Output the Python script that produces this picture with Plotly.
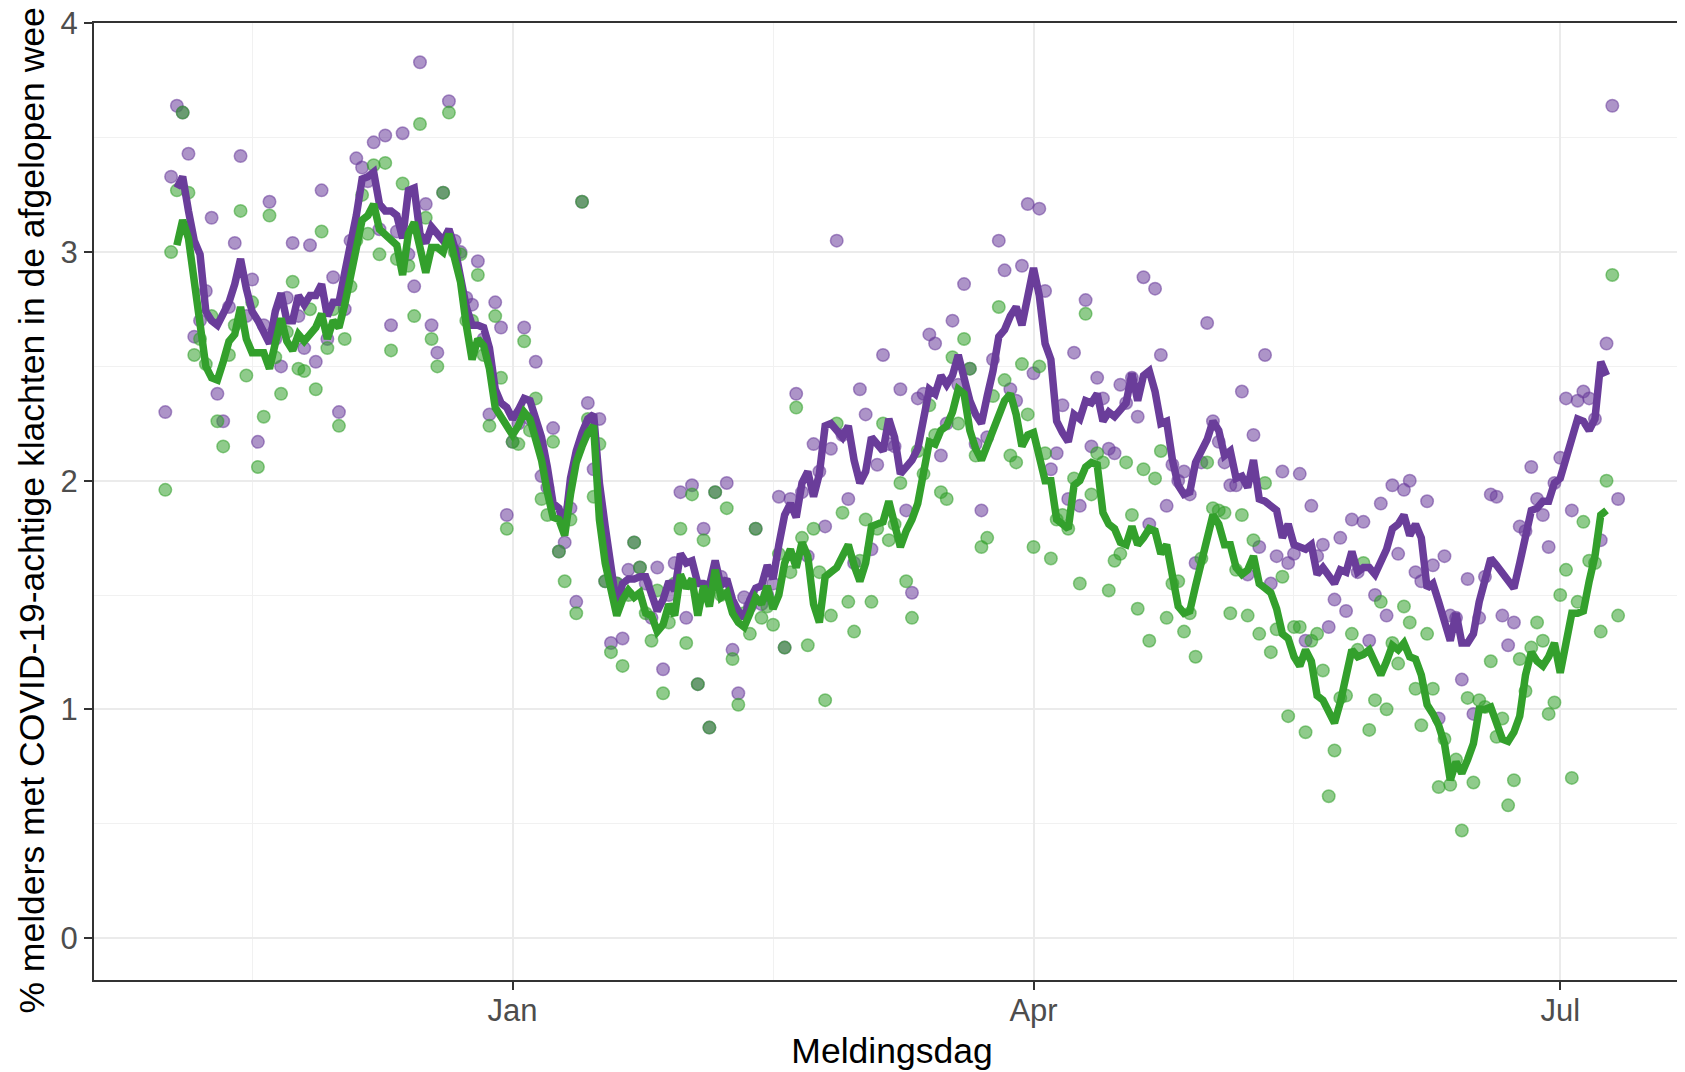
import pandas as pd
import plotly.graph_objects as go

# ---------------- data ----------------
point_start = "2022-11-02"   # first daily point
line_start = "2022-11-04"    # first point of the smoothed lines

purple_points = [
    2.30, 3.33, 3.64, 3.61, 3.43, 2.63, 2.70, 2.83, 3.15, 2.38,
    2.26, 2.76, 3.04, 3.42, 2.72, 2.88, 2.17, 2.68, 3.22, 2.62,
    2.50, 2.80, 3.04, 2.72, 2.58, 3.03, 2.52, 3.27, 2.62, 2.89,
    2.30, 2.75, 3.05, 3.41, 3.37, 3.31, 3.48, 3.10, 3.51, 2.68,
    3.09, 3.52, 2.99, 2.85, 3.83, 3.21, 2.68, 2.56, 3.26, 3.66,
    3.05, 3.00, 2.80, 2.77, 2.96, 2.62, 2.29, 2.78, 2.67, 1.85,
    2.17, 2.25, 2.67, 2.27, 2.52, 2.02, 1.97, 2.23, 1.69, 1.73,
    1.88, 1.47, 3.22, 2.34, 2.05, 2.27, 1.56, 1.29, 1.55, 1.31,
    1.61, 1.73, 1.62, 1.55, 1.40, 1.62, 1.175, 1.50, 1.64, 1.95,
    1.40, 1.98, 1.11, 1.79, 0.92, 1.95, 1.58, 1.99, 1.26, 1.07,
    1.49, 1.45, 1.79, 1.46, 1.50, 1.55, 1.93, 1.27, 1.92, 2.38,
    1.95, 1.67, 2.16, 2.04, 1.80, 2.14, 3.05, 2.20, 1.92, 1.64,
    2.40, 2.29, 1.70, 2.07, 2.55, 2.16, 2.15, 2.40, 1.87, 1.51,
    2.36, 2.38, 2.64, 2.60, 2.11, 2.25, 2.70, 2.42, 2.86, 2.49,
    2.16, 1.87, 2.19, 2.53, 3.05, 2.92, 2.40, 2.35, 2.94, 3.21,
    2.47, 3.19, 2.83, 2.05, 2.12, 2.33, 1.92, 2.56, 1.89, 2.79,
    2.15, 2.45, 2.36, 2.14, 2.12, 2.42, 2.34, 2.45, 2.28, 2.89,
    1.81, 2.84, 2.55, 1.89, 2.07, 2.00, 2.04, 1.94, 1.64, 2.08,
    2.69, 2.26, 2.17, 2.08, 1.98, 1.98, 2.39, 1.59, 2.20, 1.71,
    2.55, 1.55, 1.67, 2.04, 1.64, 1.68, 2.03, 1.30, 1.89, 1.67,
    1.72, 1.36, 1.48, 1.75, 1.43, 1.83, 1.60, 1.82, 1.30, 1.50,
    1.90, 1.41, 1.98, 1.68, 1.96, 2.00, 1.60, 1.56, 1.91, 1.63,
    0.96, 1.67, 1.41, 1.40, 1.13, 1.57, 0.98, 1.40, 1.58, 1.94,
    1.93, 1.41, 1.28, 1.38, 1.80, 1.78, 2.06, 1.92, 1.85, 1.71,
    1.99, 2.10, 2.36, 1.87, 2.35, 2.39, 2.36, 2.27, 1.74, 2.60,
    3.64, 1.92,
]

green_points = [
    1.96, 3.00, 3.27, 3.61, 3.26, 2.55, 2.62, 2.51, 2.72, 2.26,
    2.15, 2.55, 2.68, 3.18, 2.46, 2.78, 2.06, 2.28, 3.16, 2.54,
    2.38, 2.65, 2.87, 2.49, 2.48, 2.75, 2.40, 3.09, 2.58, 2.75,
    2.24, 2.62, 2.85, 3.05, 3.25, 3.08, 3.38, 2.99, 3.39, 2.57,
    2.97, 3.30, 2.94, 2.72, 3.56, 3.15, 2.62, 2.50, 3.26, 3.61,
    3.00, 2.99, 2.70, 2.70, 2.90, 2.55, 2.24, 2.72, 2.45, 1.79,
    2.17, 2.16, 2.61, 2.22, 2.36, 1.92, 1.85, 2.17, 1.69, 1.56,
    1.83, 1.42, 3.22, 2.27, 1.93, 2.16, 1.56, 1.25, 1.55, 1.19,
    1.50, 1.73, 1.62, 1.42, 1.30, 1.52, 1.07, 1.38, 1.55, 1.79,
    1.29, 1.94, 1.11, 1.74, 0.92, 1.95, 1.50, 1.88, 1.22, 1.02,
    1.42, 1.33, 1.79, 1.40, 1.45, 1.37, 1.68, 1.27, 1.60, 2.32,
    1.75, 1.28, 1.79, 1.60, 1.04, 1.41, 2.25, 1.86, 1.47, 1.34,
    1.65, 1.83, 1.47, 1.79, 2.25, 1.74, 1.81, 1.99, 1.56, 1.40,
    2.13, 2.03, 2.33, 2.20, 1.95, 1.92, 2.54, 2.25, 2.62, 2.49,
    2.11, 1.71, 1.75, 2.37, 2.76, 2.44, 2.11, 2.08, 2.51, 2.29,
    1.71, 2.50, 2.12, 1.66, 1.83, 1.85, 1.79, 2.01, 1.55, 2.73,
    1.94, 2.12, 2.08, 1.52, 1.65, 1.68, 2.08, 1.85, 1.44, 2.05,
    1.30, 2.01, 2.13, 1.40, 1.55, 1.56, 1.34, 1.42, 1.23, 1.66,
    2.08, 1.88, 1.87, 1.86, 1.42, 1.61, 1.85, 1.41, 1.74, 1.33,
    1.99, 1.25, 1.35, 1.58, 0.97, 1.36, 1.36, 0.90, 1.30, 1.33,
    1.17, 0.62, 0.82, 1.05, 1.06, 1.33, 1.26, 1.64, 0.91, 1.04,
    1.47, 1.00, 1.29, 1.20, 1.45, 1.38, 1.09, 0.93, 1.33, 1.09,
    0.66, 0.87, 0.67, 0.78, 0.47, 1.05, 0.68, 1.04, 1.01, 1.21,
    0.88, 0.96, 0.58, 0.69, 1.22, 1.08, 1.27, 1.38, 1.30, 0.98,
    1.03, 1.50, 1.61, 0.70, 1.47, 1.82, 1.65, 1.64, 1.34, 2.00,
    2.90, 1.41,
]

purple_line = [
    3.28, 3.33, 3.18, 3.05, 2.99, 2.74, 2.70, 2.68, 2.73, 2.78,
    2.86, 2.97, 2.84, 2.74, 2.70, 2.65, 2.60, 2.74, 2.82, 2.70,
    2.70, 2.81, 2.77, 2.81, 2.81, 2.86, 2.72, 2.78, 2.78, 2.91,
    3.03, 3.16, 3.32, 3.33, 3.35, 3.21, 3.18, 3.18, 3.16, 3.06,
    3.27, 3.28, 3.08, 3.04, 3.11, 3.08, 3.05, 3.10, 3.02, 2.89,
    2.76, 2.68, 2.68, 2.67, 2.58, 2.40, 2.34, 2.32, 2.27, 2.31,
    2.36, 2.35, 2.28, 2.19, 2.06, 1.90, 1.88, 1.79, 2.01, 2.13,
    2.21, 2.27, 2.29, 1.99, 1.80, 1.63, 1.45, 1.55, 1.57, 1.57,
    1.58, 1.58, 1.49, 1.43, 1.48, 1.56, 1.52, 1.68, 1.64, 1.65,
    1.55, 1.55, 1.54, 1.65, 1.54, 1.57, 1.48, 1.43, 1.40, 1.48,
    1.53, 1.54, 1.63, 1.57, 1.72, 1.85, 1.90, 1.84, 1.99, 2.04,
    1.93, 2.03, 2.24, 2.25, 2.22, 2.19, 2.24, 2.09, 1.99, 2.04,
    2.19, 2.16, 2.13, 2.27, 2.19, 2.03, 2.06, 2.09, 2.14, 2.27,
    2.40, 2.38, 2.46, 2.42, 2.46, 2.55, 2.45, 2.35, 2.29, 2.25,
    2.37, 2.48, 2.63, 2.66, 2.72, 2.76, 2.68, 2.82, 2.93, 2.81,
    2.60, 2.53, 2.26, 2.21, 2.17, 2.29, 2.27, 2.35, 2.34, 2.38,
    2.26, 2.30, 2.28, 2.31, 2.34, 2.47, 2.35, 2.46, 2.48, 2.39,
    2.25, 2.26, 2.09, 1.98, 1.94, 1.95, 2.08, 2.13, 2.18, 2.26,
    2.22, 2.11, 2.13, 2.01, 2.02, 1.97, 2.09, 1.92, 1.91, 1.89,
    1.87, 1.75, 1.81, 1.72, 1.71, 1.70, 1.72, 1.59, 1.62, 1.59,
    1.55, 1.61, 1.60, 1.69, 1.60, 1.62, 1.62, 1.59, 1.64, 1.70,
    1.79, 1.81, 1.85, 1.76, 1.81, 1.75, 1.53, 1.55, 1.47, 1.38,
    1.30, 1.42, 1.29, 1.29, 1.33, 1.47, 1.58, 1.66, 1.63, 1.60,
    1.57, 1.53, 1.64, 1.76, 1.87, 1.88, 1.91, 1.91, 1.99, 2.01,
    2.10, 2.19, 2.27, 2.26, 2.22, 2.27, 2.52, 2.46,
]

green_line = [
    3.03, 3.14, 3.06, 2.89, 2.70, 2.50, 2.45, 2.44, 2.52, 2.61,
    2.64, 2.76, 2.62, 2.56, 2.56, 2.56, 2.49, 2.61, 2.71, 2.61,
    2.57, 2.64, 2.61, 2.64, 2.67, 2.73, 2.62, 2.70, 2.67, 2.77,
    2.90, 3.03, 3.14, 3.16, 3.21, 3.10, 3.08, 3.05, 3.03, 2.90,
    3.08, 3.13, 3.00, 2.91, 3.02, 3.02, 3.00, 3.08, 2.97, 2.87,
    2.68, 2.53, 2.62, 2.59, 2.49, 2.32, 2.28, 2.24, 2.20, 2.24,
    2.30, 2.27, 2.19, 2.09, 1.95, 1.84, 1.83, 1.76, 1.94, 2.08,
    2.15, 2.21, 2.24, 1.83, 1.64, 1.51, 1.41, 1.48, 1.52, 1.49,
    1.51, 1.42, 1.41, 1.34, 1.37, 1.46, 1.41, 1.59, 1.53, 1.57,
    1.41, 1.54, 1.45, 1.61, 1.49, 1.51, 1.42, 1.38, 1.36, 1.42,
    1.49, 1.46, 1.54, 1.44, 1.50, 1.64, 1.70, 1.62, 1.73, 1.67,
    1.46, 1.38, 1.58, 1.60, 1.62, 1.67, 1.72, 1.63, 1.56, 1.64,
    1.80, 1.81, 1.82, 1.91, 1.80, 1.71, 1.78, 1.83, 1.90, 2.06,
    2.17, 2.16, 2.22, 2.24, 2.30, 2.40, 2.38, 2.22, 2.14, 2.09,
    2.16, 2.22, 2.30, 2.35, 2.38, 2.29, 2.15, 2.20, 2.21, 2.09,
    2.00, 2.00, 1.83, 1.81, 1.79, 1.98, 2.00, 2.06, 2.08, 2.07,
    1.86, 1.81, 1.79, 1.73, 1.72, 1.80, 1.72, 1.75, 1.79, 1.78,
    1.68, 1.72, 1.56, 1.45, 1.42, 1.43, 1.54, 1.65, 1.75, 1.85,
    1.81, 1.72, 1.72, 1.62, 1.59, 1.61, 1.67, 1.55, 1.53, 1.51,
    1.44, 1.33, 1.31, 1.23, 1.19, 1.26, 1.21, 1.06, 1.04, 0.99,
    0.94, 1.03, 1.16, 1.26, 1.23, 1.24, 1.26, 1.21, 1.15, 1.21,
    1.28, 1.26, 1.29, 1.23, 1.22, 1.15, 1.02, 0.98, 0.93, 0.85,
    0.69, 0.77, 0.72, 0.78, 0.85, 1.00, 1.00, 1.01, 0.94, 0.87,
    0.86, 0.90, 0.97, 1.15, 1.25, 1.21, 1.19, 1.23, 1.29, 1.16,
    1.29, 1.42, 1.42, 1.43, 1.56, 1.67, 1.85, 1.87,
]

x_tick_vals = ["2023-01-01", "2023-04-01", "2023-07-01"]
x_tick_text = ["Jan", "Apr", "Jul"]
x_minor_vals = ["2022-11-17", "2023-02-15", "2023-05-16"]
y_tick_vals = [0, 1, 2, 3, 4]
y_tick_text = ["0", "1", "2", "3", "4"]

x_title = "Meldingsdag"
y_title = "% melders met COVID-19-achtige klachten in de afgelopen week"

# ---------------- build ----------------
point_dates = pd.date_range(point_start, periods=len(purple_points), freq="D")
line_dates = pd.date_range(line_start, periods=len(purple_line), freq="D")
assert len(green_points) == len(purple_points)
assert len(green_line) == len(purple_line)

PURPLE = "#6a3d9a"
GREEN = "#33a02c"
PURPLE_A = "rgba(106,61,154,0.55)"
GREEN_A = "rgba(51,160,44,0.55)"

fig = go.Figure()
fig.add_trace(go.Scatter(
    x=point_dates, y=purple_points, mode="markers", showlegend=False,
    marker=dict(size=12.5, color=PURPLE_A, line=dict(color=PURPLE_A, width=1.5)),
))
fig.add_trace(go.Scatter(
    x=point_dates, y=green_points, mode="markers", showlegend=False,
    marker=dict(size=12.5, color=GREEN_A, line=dict(color=GREEN_A, width=1.5)),
))
fig.add_trace(go.Scatter(
    x=line_dates, y=purple_line, mode="lines", showlegend=False,
    line=dict(color=PURPLE, width=7.5),
))
fig.add_trace(go.Scatter(
    x=line_dates, y=green_line, mode="lines", showlegend=False,
    line=dict(color=GREEN, width=7.5),
))

ref = pd.Timestamp("2023-01-01")
x_left = ref + pd.Timedelta(days=-72.32)
x_right = ref + pd.Timedelta(days=203.42)

FONT = "Liberation Sans, Arial, Helvetica, sans-serif"
BORDER = "#333333"
GRID = "#ebebeb"

fig.update_layout(
    width=1685, height=1072,
    margin=dict(l=86, r=3, t=15, b=100, pad=0),
    paper_bgcolor="white", plot_bgcolor="white",
    font=dict(family=FONT, color="#4d4d4d", size=31),
    showlegend=False,
)
fig.update_xaxes(
    type="date", range=[x_left, x_right],
    tickmode="array", tickvals=x_tick_vals, ticktext=x_tick_text,
    ticks="outside", ticklen=8, tickwidth=2.2, tickcolor=BORDER,
    tickfont=dict(size=31, color="#4d4d4d", family=FONT),
    ticklabelstandoff=-6, ticklabeloverflow="allow",
    showline=True, linecolor=BORDER, linewidth=2.3, mirror=True,
    showgrid=True, gridcolor=GRID, gridwidth=2.2,
    minor=dict(tickmode="array", tickvals=x_minor_vals, showgrid=True,
               gridcolor="#f1f1f1", gridwidth=1.3, ticks=""),
    zeroline=False, automargin=False,
    title=dict(text=x_title, font=dict(size=35.5, color="black", family=FONT), standoff=11),
)
fig.update_yaxes(
    range=[-0.184, 4.002],
    tickmode="array", tickvals=y_tick_vals, ticktext=y_tick_text,
    ticks="outside", ticklen=8, tickwidth=2.2, tickcolor=BORDER,
    tickfont=dict(size=31, color="#4d4d4d", family=FONT),
    ticklabeloverflow="allow",
    showline=True, linecolor=BORDER, linewidth=2.3, mirror=False,
    showgrid=True, gridcolor=GRID, gridwidth=2.2,
    minor=dict(dtick=0.5, tick0=0, showgrid=True, gridcolor="#f1f1f1", gridwidth=1.3, ticks=""),
    zeroline=False, automargin=False,
    title=dict(text=y_title, font=dict(size=35.5, color="black", family=FONT), standoff=5),
)

fig.write_html("out.html")
